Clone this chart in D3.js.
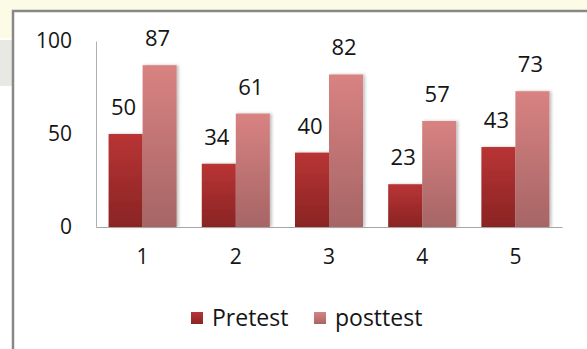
<!DOCTYPE html>
<html lang="en">
	<head>
		<meta charset="utf-8">
		<title>Pretest / posttest</title>
		<script type="text/javascript" src="https://cdn.jsdelivr.net/npm/d3@7"></script>
		<style type="text/css">
			body{
				margin: 0;
				background: #fff;
			}
			text{
				font-family: "Open Sans", sans-serif;
				fill: #151515;
			}
		</style>
	</head>
	<body>
		<script type="text/javascript">

			// data
			var categories = ["1", "2", "3", "4", "5"];
			var seriesNames = ["Pretest", "posttest"];
			var pretest = [50, 34, 40, 23, 43];
			var posttest = [87, 61, 82, 57, 73];
			var yTicks = [0, 50, 100];

			var W = 587, H = 349;

			var svg = d3.select("body")
						.append("svg")
						.attr("width", W)
						.attr("height", H);

			var defs = svg.append("defs");

			//gradients for the two series
			var grads = [["gPre", "#b93434", "#8a2424"], ["gPost", "#d98282", "#a66565"]];
			grads.forEach(function(g) {
				var lg = defs.append("linearGradient")
							.attr("id", g[0])
							.attr("x1", 0).attr("y1", 0)
							.attr("x2", 0).attr("y2", 1);
				lg.append("stop").attr("offset", "0%").attr("stop-color", g[1]);
				lg.append("stop").attr("offset", "100%").attr("stop-color", g[2]);
			});

			var shadow = defs.append("filter")
							.attr("id", "shadow")
							.attr("x", "-20%").attr("y", "-20%")
							.attr("width", "150%").attr("height", "140%");
			shadow.append("feDropShadow")
				.attr("dx", 2).attr("dy", 0)
				.attr("stdDeviation", 1.5)
				.attr("flood-color", "#000")
				.attr("flood-opacity", 0.25);

			// slide background behind the chart box
			svg.append("rect")
				.attr("x", 0).attr("y", 0)
				.attr("width", W).attr("height", 11)
				.attr("fill", "#fbfbe6");
			svg.append("rect")
				.attr("x", 0).attr("y", 0)
				.attr("width", 12).attr("height", 38)
				.attr("fill", "#fbfbe6");
			svg.append("rect")
				.attr("x", 0).attr("y", 40)
				.attr("width", 12).attr("height", 46)
				.attr("fill", "#e9e9e4");

			// chart box border (left + top only, rest runs off the picture)
			svg.append("path")
				.attr("d", "M13," + H + "V11H" + W)
				.attr("fill", "none")
				.attr("stroke", "#888")
				.attr("stroke-width", 2.5);

			var x = d3.scaleBand()
						.domain(categories)
						.range([96, 562])
						.paddingInner(0.27)
						.paddingOuter(0.135);

			var xInner = d3.scaleBand()
						.domain(seriesNames)
						.range([0, x.bandwidth()]);

			var y = d3.scaleLinear()
						.domain([0, 100])
						.range([227, 41]);

			var color = d3.scaleOrdinal()
						.domain(seriesNames)
						.range(["url(#gPre)", "url(#gPost)"]);

			var rows = categories.map(function(c, i) {
				return {cat: c, vals: [{s: "Pretest", v: pretest[i]}, {s: "posttest", v: posttest[i]}]};
			});

			// y axis labels, no ticks
			var yAxis = svg.append("g")
						.attr("transform", "translate(96,0)")
						.call(d3.axisLeft(y).tickValues(yTicks).tickSize(0).tickPadding(24));
			yAxis.select(".domain").attr("stroke", "#b0b0b0");
			yAxis.selectAll("text")
				.attr("font-size", 21)
				.attr("font-family", "Open Sans, sans-serif")
				.attr("fill", "#151515");

			var groups = svg.selectAll(".grp")
						.data(rows)
						.enter()
						.append("g")
						.attr("class", "grp")
						.attr("transform", function(d) {return "translate(" + x(d.cat) + ",0)";});

			groups.selectAll("rect")
				.data(function(d) {return d.vals;})
				.enter()
				.append("rect")
				.attr("x", function(d) {return xInner(d.s);})
				.attr("y", function(d) {return y(d.v);})
				.attr("width", xInner.bandwidth())
				.attr("height", function(d) {return y(0) - y(d.v);})
				.attr("fill", function(d) {return color(d.s);})
				.attr("filter", "url(#shadow)");

			groups.selectAll(".val")
				.data(function(d) {return d.vals;})
				.enter()
				.append("text")
				.attr("class", "val")
				.attr("x", function(d) {return xInner(d.s) + xInner.bandwidth() / 2 - 2;})
				.attr("y", function(d) {return y(d.v) - 19;})
				.attr("text-anchor", "middle")
				.attr("font-size", 22)
				.text(function(d) {return d.v;});

			// x axis: baseline + labels
			var xAxis = svg.append("g")
						.attr("transform", "translate(0," + y(0) + ")")
						.call(d3.axisBottom(x).tickSize(0).tickPadding(22));
			xAxis.select(".domain").attr("stroke", "#a6a6a6");
			xAxis.selectAll("text")
				.attr("font-size", 21)
				.attr("font-family", "Open Sans, sans-serif")
				.attr("fill", "#151515");

			// legend
			var legendX = [191, 314];
			var legend = svg.selectAll(".legend")
						.data(seriesNames)
						.enter()
						.append("g")
						.attr("class", "legend")
						.attr("transform", function(d, i) {return "translate(" + legendX[i] + ",312)";});

			legend.append("rect")
				.attr("width", 12)
				.attr("height", 12)
				.attr("fill", function(d) {return color(d);});

			legend.append("text")
				.attr("x", 21)
				.attr("y", 14)
				.attr("font-size", 23)
				.text(function(d) {return d;});

		</script>
	</body>
</html>
